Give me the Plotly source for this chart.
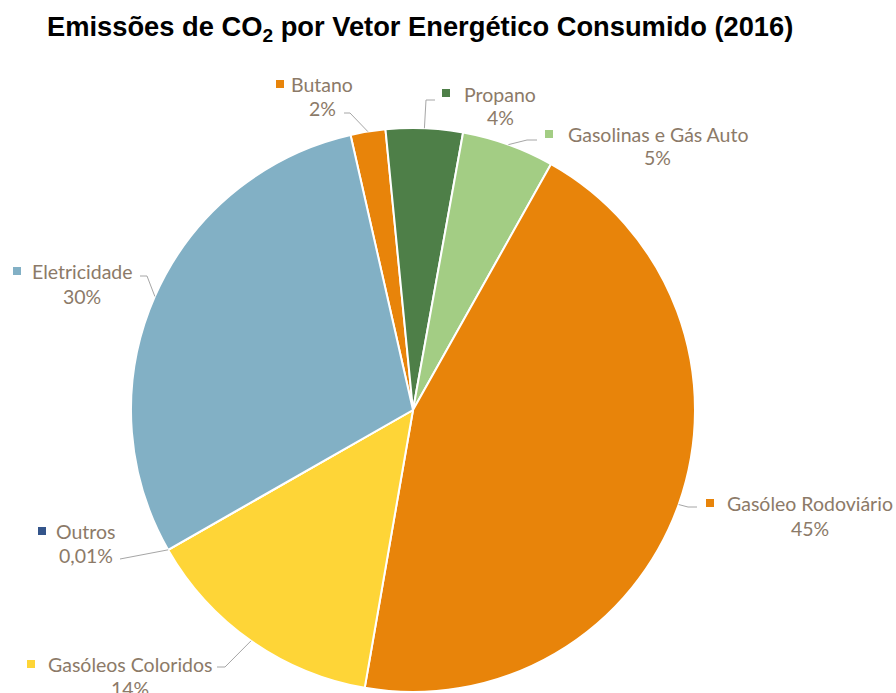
import math
import plotly.graph_objects as go

# ---- data ----
labels = ["Butano", "Propano", "Gasolinas e Gás Auto", "Gasóleo Rodoviário",
          "Gasóleos Coloridos", "Outros", "Eletricidade"]
values = [2.0, 4.4, 5.3, 44.6, 14.0, 0.01, 29.7]
pct_text = ["2%", "4%", "5%", "45%", "14%", "0,01%", "30%"]
colors = ["#E8840A", "#4E7F48", "#A3CD84", "#E8840A", "#FED537", "#34558B", "#82B0C5"]

# ---- layout helpers ----
W, H = 896, 693
CX, CY, R = 413, 410, 282
ROT = -12.8
TXT = "#8C7A68"
FONT = "Lato"
FS = 19.5

def px(x, y):
    return x / W, 1 - y / H

# label placement (pixel positions of text centres, square marker, leader elbow)
name_pos = [(322, 84), (500, 94), (658, 134), (810, 503), (130, 664), (86, 531), (82, 271)]
pct_pos = [(322, 108), (500, 118), (657, 158), (810, 528), (130, 688), (86, 555), (82, 296)]
sq_pos = [(280, 84), (446, 93), (549, 134), (710, 503), (31, 664), (42, 531), (17, 271)]
leader_start = [[(344, 113), (350, 113)], [(435, 100), (426, 100)], [(537, 140), (527, 140)],
                [(697, 507), (688, 507)], [(217, 667), (225, 667)], [(120, 559)],
                [(140, 276), (147, 276)]]

fig = go.Figure(go.Pie(
    labels=labels, values=values, sort=False, direction="clockwise", rotation=ROT,
    marker=dict(colors=colors, line=dict(color="white", width=2)),
    textinfo="none", hoverinfo="label+percent", showlegend=False,
    domain=dict(x=[(CX - R) / W, (CX + R) / W], y=[(H - CY - R) / H, (H - CY + R) / H]),
))

annotations = []
shapes = []
total = sum(values)
cum = 0
for i, v in enumerate(values):
    mid = ROT + (cum + v / 2) / total * 360
    cum += v
    a = math.radians(mid)
    ax, ay = CX + R * math.sin(a), CY - R * math.cos(a)
    pts = leader_start[i] + [(ax, ay)]
    path = "M " + " L ".join(f"{px(x, y)[0]},{px(x, y)[1]}" for x, y in pts)
    shapes.append(dict(type="path", path=path, xref="paper", yref="paper",
                       line=dict(color="#A6A6A6", width=1)))
    nx, ny = px(*name_pos[i])
    annotations.append(dict(x=nx, y=ny, xref="paper", yref="paper", text=labels[i],
                            showarrow=False, xanchor="center", yanchor="middle",
                            font=dict(family=FONT, size=FS, color=TXT)))
    tx, ty = px(*pct_pos[i])
    annotations.append(dict(x=tx, y=ty, xref="paper", yref="paper", text=pct_text[i],
                            showarrow=False, xanchor="center", yanchor="middle",
                            font=dict(family=FONT, size=FS, color=TXT)))
    sx, sy = sq_pos[i]
    x0, y0 = px(sx - 4, sy + 4)
    x1, y1 = px(sx + 4, sy - 4)
    shapes.append(dict(type="rect", xref="paper", yref="paper", x0=x0, y0=y0, x1=x1, y1=y1,
                       fillcolor=colors[i], line=dict(width=0)))

annotations.append(dict(x=px(420, 28)[0], y=px(420, 28)[1], xref="paper", yref="paper",
                        text="<b>Emissões de CO<sub>2</sub> por Vetor Energético Consumido (2016)</b>",
                        showarrow=False, xanchor="center", yanchor="middle",
                        font=dict(family="Liberation Sans, Arial", size=27.3, color="#000000")))

fig.update_layout(width=W, height=H, margin=dict(l=0, r=0, t=0, b=0),
                  paper_bgcolor="white", plot_bgcolor="white",
                  annotations=annotations, shapes=shapes)
fig.write_html("out.html", config={"displayModeBar": False},
               post_script="document.body.style.margin='0';document.body.style.overflow='hidden';")
